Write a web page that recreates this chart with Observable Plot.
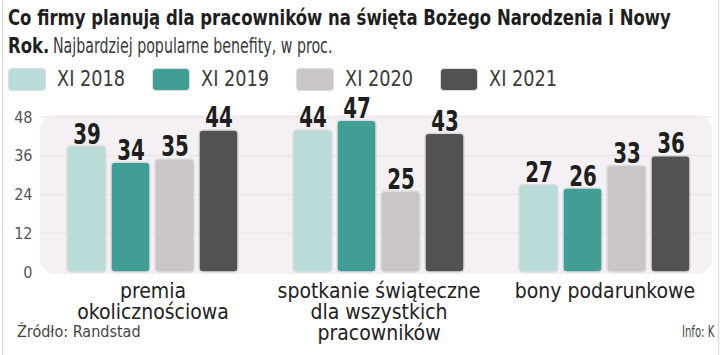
<!DOCTYPE html>
<html>
<head>
<meta charset="utf-8">
<script src="https://cdn.jsdelivr.net/npm/d3@7"></script>
<script src="https://cdn.jsdelivr.net/npm/@observablehq/plot@0.6"></script>
<style>
  html, body { margin: 0; padding: 0; background: #fff; }
  #wrap { position: relative; width: 720px; height: 355px; overflow: hidden; background: #fff;
          font-family: "DejaVu Sans Condensed", "Liberation Sans Narrow", sans-serif; color: #222; }
  #border { position: absolute; left: 2px; top: 0; width: 715px; height: 355px; border-left: 1px solid #d8d8d8; border-right: 1px solid #d8d8d8; pointer-events: none; }
  .t { position: absolute; white-space: nowrap; transform-origin: 0 0; }
  .tb { font-weight: bold; font-size: 20.5px; line-height: 28px; color: #1e1e1e; transform: scaleX(0.895); }
  .ts { font-size: 20.5px; line-height: 28px; color: #3a3a3a; transform: scaleX(0.77); }
  .sw { position: absolute; width: 38px; height: 23px; border-radius: 4px; border: 1.5px solid #dcdcdc; box-sizing: border-box; }
  .lt { position: absolute; font-size: 20.5px; line-height: 23px; color: #3a3a3a; white-space: nowrap; transform-origin: 0 0; transform: scaleX(0.96); }
  #chart { position: absolute; left: 0; top: 100px; }
  #src { position: absolute; left: 17px; top: 322px; font-size: 16px; color: #444; }
  #info { position: absolute; left: 682px; top: 322px; font-size: 16px; color: #444; white-space: nowrap; transform-origin: 0 0; transform: scaleX(0.7); }
</style>
</head>
<body>
<div id="wrap">
  <div class="t tb" style="left:8px; top:4px">Co firmy planują dla pracowników na święta Bożego Narodzenia i Nowy</div>
  <div class="t tb" style="left:8px; top:32px">Rok.</div>
  <div class="t ts" style="left:53px; top:32px">Najbardziej popularne benefity, w proc.</div>
  <div id="legend"></div>
  <div id="chart"></div>
  <div id="src">Źródło: Randstad</div>
  <div id="info">Info: K</div>
  <div id="border"></div>
</div>
<script>
const categories = ["premia\nokolicznościowa", "spotkanie świąteczne\ndla wszystkich\npracowników", "bony podarunkowe"];
const years = ["XI 2018", "XI 2019", "XI 2020", "XI 2021"];
const v2018 = [39, 44, 27];
const v2019 = [34, 47, 26];
const v2020 = [35, 25, 33];
const v2021 = [44, 43, 36];
const yTicks = [0, 12, 24, 36, 48];
const colors = ["#b9dcda", "#409e94", "#c9c5c9", "#525252"];

const series = [v2018, v2019, v2020, v2021];
const data = [];
categories.forEach((c, i) => years.forEach((y, j) => data.push({cat: c, year: y, value: series[j][i]})));

// legend
const leg = document.getElementById("legend");
years.forEach((y, j) => {
  const left = 8 + j * 144;
  const sw = document.createElement("div");
  sw.className = "sw";
  sw.style.left = left + "px"; sw.style.top = "68px"; sw.style.background = colors[j];
  const tx = document.createElement("div");
  tx.className = "lt";
  tx.style.left = (left + 49) + "px"; tx.style.top = "68px";
  tx.textContent = y;
  leg.appendChild(sw); leg.appendChild(tx);
});

const FONT = '"DejaVu Sans Condensed", "Liberation Sans Narrow", sans-serif';

const plot = Plot.plot({
  width: 720,
  height: 255,
  marginTop: 17,
  marginBottom: 83,
  marginLeft: 65,
  marginRight: 28,
  style: {fontFamily: FONT, background: "transparent", overflow: "visible"},
  fx: {domain: categories, paddingInner: 0.226, paddingOuter: 0, label: null},
  x: {domain: years, paddingInner: 0.11, paddingOuter: 0, axis: null},
  y: {domain: [0, 48], label: null},
  color: {domain: years, range: colors},
  marks: [
    Plot.axisY({ticks: yTicks, tickSize: 0, tickPadding: 33, fontSize: 16, fill: "#555", label: null}),
    Plot.axisFx({anchor: "bottom", tickSize: 0, tickPadding: 11, fontSize: 21, lineHeight: 1.0, fill: "#222", label: null}),
    Plot.barY(data, {fx: "cat", x: "year", y: "value", fill: "year", stroke: "#dedbde", strokeWidth: 1.5, rx: 4}),
    Plot.text(data, {fx: "cat", x: "year", y: "value", text: d => String(d.value), lineAnchor: "bottom", dy: -3,
      fontSize: 29, fontWeight: "bold", fill: "#1e1e1e", stroke: "none"})
  ]
});

// condense the bold value labels horizontally (style only)
d3.select(plot).selectAll("text").each(function() {
  if (this.getAttribute("font-weight") !== "bold" && !(this.parentNode && this.parentNode.getAttribute && this.parentNode.getAttribute("font-weight") === "bold")
      && !(this.closest && this.closest('[font-weight="bold"]'))) return;
  const t = d3.select(this);
  let tr = t.attr("transform");
  if (!tr) {
    const x = +t.attr("x") || 0, y = +t.attr("y") || 0;
    t.attr("x", null).attr("y", null);
    tr = `translate(${x},${y})`;
  }
  t.attr("transform", tr + " scale(0.76,1)");
});

// background panel and grid under the marks, from the plot's own y scale
const ys = plot.scale("y");
const y0 = ys.apply(0), y48 = ys.apply(48);
const bg = d3.create("svg:g");
bg.append("rect").attr("x", 40).attr("y", y48 - 2).attr("width", 672).attr("height", y0 - y48 + 4)
  .attr("rx", 16).attr("fill", "#f4f0f3");
yTicks.filter(t => t > 0).forEach(t => {
  bg.append("line").attr("x1", 40).attr("x2", 712).attr("y1", ys.apply(t)).attr("y2", ys.apply(t))
    .attr("stroke", "#e7e2e6").attr("stroke-width", 1);
});
plot.insertBefore(bg.node(), plot.firstChild.nextSibling);

document.getElementById("chart").appendChild(plot);
</script>
</body>
</html>
